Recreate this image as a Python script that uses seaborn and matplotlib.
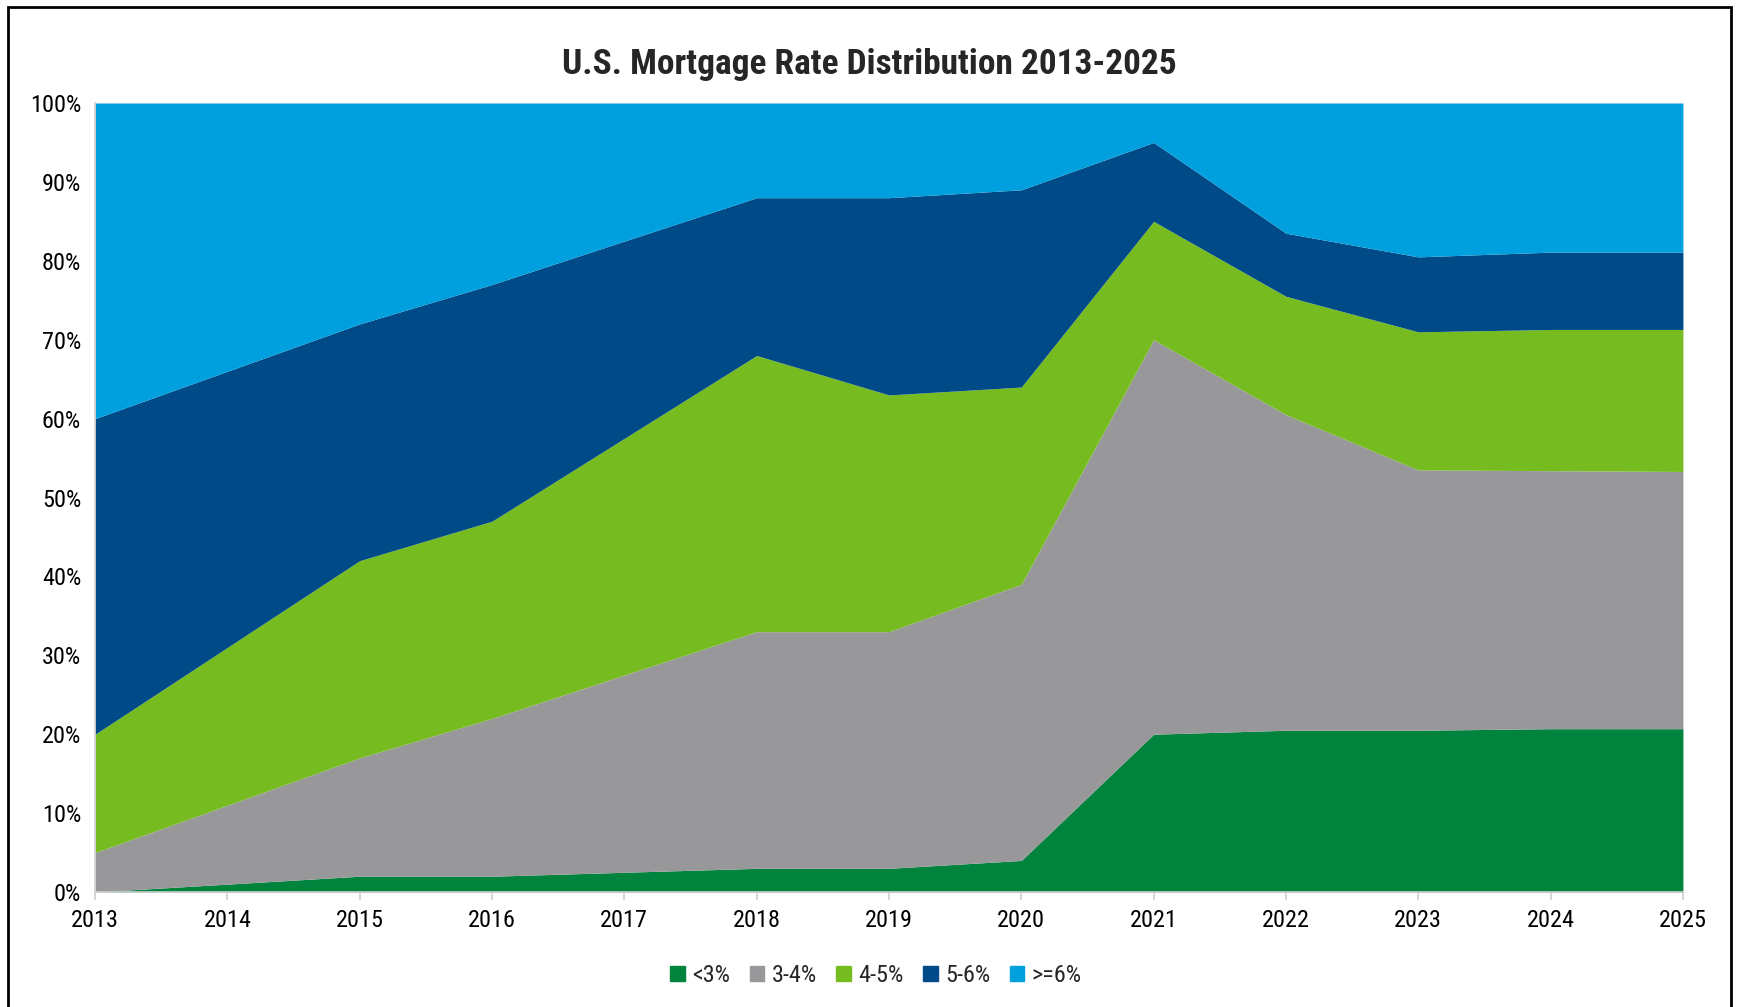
import matplotlib
matplotlib.use("Agg")
import matplotlib.pyplot as plt
import matplotlib.patches as mpatches
import matplotlib.ticker as mtick
from matplotlib import font_manager
import seaborn as sns
import pandas as pd

years = [2013, 2014, 2015, 2016, 2017, 2018, 2019, 2020, 2021, 2022, 2023, 2024, 2025]
bands = ['<3%', '3-4%', '4-5%', '5-6%', '>=6%']

# share of mortgages in each rate band (percent)
below_3 = [0, 1, 2, 2, 2.5, 3, 3, 4, 20, 20.5, 20.5, 20.7, 20.7]
rate_3_4 = [5, 10, 15, 20, 25, 30, 30, 35, 50, 40, 33, 32.7, 32.6]
rate_4_5 = [15, 20, 25, 25, 30, 35, 30, 25, 15, 15, 17.5, 17.9, 18]
rate_5_6 = [40, 35, 30, 30, 25, 20, 25, 25, 10, 8, 9.5, 9.8, 9.8]
above_6 = [40, 34, 28, 23, 17.5, 12, 12, 11, 5, 16.5, 19.5, 18.9, 18.9]

colors = ['#00843D', '#98989A', '#76BC21', '#004B87', '#00A0DF']

df = pd.DataFrame({'year': years, '<3%': below_3, '3-4%': rate_3_4,
                   '4-5%': rate_4_5, '5-6%': rate_5_6, '>=6%': above_6})

sns.set_theme(style='white')

# look for a narrow sans (the original uses Arial Narrow)
installed = {f.name for f in font_manager.fontManager.ttflist}
narrow = [n for n in ['Liberation Sans Narrow', 'Arial Narrow', 'Roboto Condensed',
                      'Open Sans Condensed', 'DejaVu Sans Condensed'] if n in installed]
if narrow:
    plt.rcParams['font.family'] = [narrow[0], 'DejaVu Sans']
    title_size, tick_size = 25.5, 17.5
else:
    plt.rcParams['font.family'] = ['Liberation Sans', 'DejaVu Sans']
    title_size, tick_size = 23, 15

fig = plt.figure(figsize=(17.38, 10.07), dpi=100)
ax = fig.add_axes([0.0547, 0.1142, 0.9136, 0.7835])

ax.stackplot(df['year'], [df[b] / 100 for b in bands], labels=bands,
             colors=sns.color_palette(colors), linewidth=0)

ax.set_xlim(2013, 2025)
ax.set_ylim(0, 1)
ax.set_xticks(years)
ax.set_yticks([i / 10 for i in range(11)])
ax.yaxis.set_major_formatter(mtick.PercentFormatter(1.0, decimals=0))
ax.tick_params(axis='x', labelsize=tick_size, colors='#d0d0d0', labelcolor='black',
               length=6, width=1.2, direction='out', bottom=True, pad=6)
ax.tick_params(axis='y', labelsize=tick_size, length=0, pad=10, labelcolor='black')
for s in ['top', 'right']:
    ax.spines[s].set_visible(False)
for s in ['left', 'bottom']:
    ax.spines[s].set_color('#d0d0d0')
    ax.spines[s].set_linewidth(1.2)
ax.set_xlabel('')
ax.set_ylabel('')

fig.text(0.5, 0.936, 'U.S. Mortgage Rate Distribution 2013-2025', ha='center',
         va='center', fontsize=title_size, fontweight='bold')

handles = [mpatches.Patch(color=c, label=b) for b, c in zip(bands, colors)]
fig.legend(handles=handles, loc='center', bbox_to_anchor=(0.504, 0.031), ncol=5,
           frameon=False, fontsize=tick_size, handlelength=0.6, handleheight=0.6,
           handletextpad=0.3, columnspacing=0.8)

# outer frame around the chart
fig.patches.append(mpatches.Rectangle((0.0046, -0.02), 0.9914, 1.013,
                                      transform=fig.transFigure, fill=False,
                                      edgecolor='black', linewidth=2))

fig.savefig('out.png', dpi=100)
